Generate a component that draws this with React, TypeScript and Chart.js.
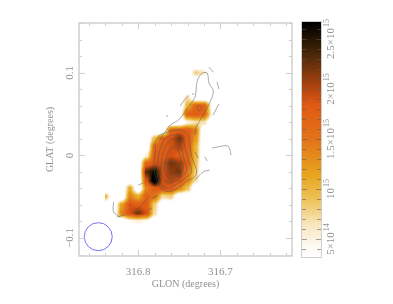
import React, { useEffect, useRef } from "react";
import { Chart, registerables } from "chart.js";

Chart.register(...registerables);

type P = [number, number];

const glonCells = [316.84, 316.83, 316.82, 316.81, 316.8, 316.79, 316.78, 316.77, 316.76, 316.75, 316.74, 316.73, 316.72, 316.71];
const glatCells = [0.11, 0.1, 0.09, 0.08, 0.07, 0.06, 0.05, 0.04, 0.03, 0.02, 0.01, 0, -0.01, -0.02, -0.03, -0.04, -0.05, -0.06, -0.07, -0.08, -0.09];
// column density in units of 10^14
const columnDensity = [
  [0, 0, 0, 0, 0, 0, 0, 0, 0, 0, 0, 0, 0, 0],
  [0, 0, 0, 0, 0, 0, 0, 0, 0, 0, 0, 8, 6, 0],
  [0, 0, 0, 0, 0, 0, 0, 0, 0, 0, 0, 0, 0, 0],
  [0, 0, 0, 0, 0, 0, 0, 0, 0, 0, 0, 0, 0, 0],
  [0, 0, 0, 0, 0, 0, 0, 0, 0, 0, 7, 0, 0, 0],
  [0, 0, 0, 0, 0, 0, 0, 0, 0, 0, 10, 17, 17, 4],
  [0, 0, 0, 0, 0, 0, 0, 0, 0, 0, 17, 18, 17, 5],
  [0, 0, 0, 0, 0, 0, 0, 0, 0, 0, 5, 7, 7, 0],
  [0, 0, 0, 0, 0, 0, 0, 0, 17, 18, 18, 14, 0, 0],
  [0, 0, 0, 0, 0, 0, 10, 18, 19, 22, 18, 12, 0, 0],
  [0, 0, 0, 0, 0, 0, 17, 18, 19, 20, 18, 10, 0, 0],
  [0, 0, 0, 0, 0, 5, 18, 18, 19, 18, 17, 10, 0, 0],
  [0, 0, 0, 0, 0, 17, 19, 19, 22, 21, 18, 9, 0, 0],
  [0, 0, 0, 0, 0, 23, 26, 19, 21, 22, 15, 8, 0, 0],
  [0, 0, 0, 0, 0, 19, 29, 19, 20, 19, 14, 7, 0, 0],
  [0, 0, 0, 11, 0, 14, 18, 19, 18, 14, 9, 0, 0, 0],
  [10, 0, 0, 14, 11, 17, 15, 7, 8, 0, 0, 0, 0, 0],
  [0, 0, 12, 19, 18, 18, 8, 0, 0, 0, 0, 0, 0, 0],
  [0, 0, 14, 19, 22, 19, 7, 0, 0, 0, 0, 0, 0, 0],
  [0, 0, 0, 4, 5, 4, 0, 0, 0, 0, 0, 0, 0, 0],
  [0, 0, 0, 0, 0, 0, 0, 0, 0, 0, 0, 0, 0, 0],
];

const contourA: P[] = [[316.779, 0.0065], [316.779, 0.0166], [316.773, 0.0247], [316.763, 0.0287], [316.749, 0.0307], [316.739, 0.0247], [316.737, 0.0126], [316.735, -0.0016], [316.729, -0.0177], [316.731, -0.0258], [316.739, -0.0298], [316.749, -0.0379], [316.763, -0.0439], [316.771, -0.0398], [316.777, -0.0318], [316.781, -0.0137], [316.779, 0.0065]];
const contourB: P[] = [[316.775, 0.0025], [316.769, 0.0186], [316.759, 0.0247], [316.747, 0.0226], [316.743, 0.0086], [316.739, -0.0056], [316.735, -0.0197], [316.743, -0.0277], [316.755, -0.0358], [316.765, -0.0398], [316.773, -0.0338], [316.777, -0.0217], [316.775, 0.0025]];
const contourC: P[] = [[316.771, -0.0016], [316.765, 0.0146], [316.755, 0.0207], [316.749, 0.0146], [316.745, -0.0016], [316.741, -0.0177], [316.747, -0.0258], [316.759, -0.033], [316.767, -0.0318], [316.772, -0.0217], [316.771, -0.0016]];
const contourD: P[] = [[316.767, -0.0056], [316.761, 0.0086], [316.753, 0.0105], [316.749, -0.0016], [316.745, -0.0177], [316.753, -0.0258], [316.763, -0.0277], [316.768, -0.0177], [316.767, -0.0056]];
const contourE: P[] = [[316.765, -0.0096], [316.759, -0.0056], [316.751, -0.0116], [316.749, -0.0197], [316.757, -0.0237], [316.763, -0.0197], [316.765, -0.0096]];
const contourNorth: P[] = [[316.774, 0.0186], [316.761, 0.0368], [316.751, 0.0428], [316.74, 0.0574], [316.731, 0.0707], [316.728, 0.0912], [316.722, 0.0997], [316.716, 0.0997], [316.714, 0.0876], [316.709, 0.0791], [316.71, 0.0707], [316.721, 0.0489], [316.73, 0.0332], [316.731, 0.0247]];
const contourDiamond: P[] = [[316.726, 0.061], [316.723, 0.0574], [316.726, 0.0537], [316.728, 0.0574], [316.726, 0.061]];
const contourBits: P[][] = [
  [[316.749, 0.0598], [316.744, 0.067], [316.739, 0.0719]],
  [[316.766, 0.0465], [316.764, 0.0489]],
  [[316.734, 0.0731], [316.733, 0.0755]],
  [[316.714, 0.107], [316.709, 0.1009]],
  [[316.704, 0.0888], [316.702, 0.0803]],
  [[316.709, 0.0489], [316.702, 0.0622]],
  [[316.83, -0.0564], [316.83, -0.0685], [316.822, -0.0745]],
  [[316.826, -0.0745], [316.816, -0.0721]],
  [[316.804, -0.0681], [316.796, -0.06], [316.787, -0.05]],
  [[316.8, -0.036], [316.794, -0.0334]],
  [[316.783, -0.0519], [316.775, -0.0479]],
  [[316.788, -0.0661], [316.783, -0.0636]],
  [[316.731, -0.0298], [316.721, -0.02], [316.713, -0.0177]],
  [[316.71, 0.0089], [316.691, 0.0114], [316.687, 0.0005]],
  [[316.731, 0.0041], [316.727, -0.0031]],
  [[316.719, -0.0019], [316.716, -0.0068]],
];
const beamCentre: P[] = [[316.8486, -0.0984]];

const xMajor = [316.8, 316.7];
const xMinor = [316.86, 316.84, 316.82, 316.78, 316.76, 316.74, 316.72, 316.68, 316.66, 316.64, 316.62];
const yMajor = [-0.1, 0, 0.1];
const yMinor = [-0.12, -0.08, -0.06, -0.04, -0.02, 0.02, 0.04, 0.06, 0.08, 0.12, 0.14, 0.16];
const barMajor: [number, string, string][] = [
  [5, "5×10", "14"],
  [10, "10", "15"],
  [15, "1.5×10", "15"],
  [20, "2×10", "15"],
  [25, "2.5×10", "15"],
];
const barMinor = [4, 6, 7, 8, 9, 11, 12, 13, 14, 16, 17, 18, 19, 21, 22, 23, 24, 26];
const colorStops: [number, number, number, number][] = [
  [3.2, 255, 255, 255],
  [4.4, 253, 248, 240],
  [6.4, 248, 230, 190],
  [8.9, 238, 195, 90],
  [11.4, 232, 165, 30],
  [15, 225, 115, 25],
  [18.4, 225, 90, 20],
  [20, 180, 70, 15],
  [22.9, 90, 45, 10],
  [24.4, 50, 28, 5],
  [26.6, 0, 0, 0],
];

const colorFor = (v: number): [number, number, number] => {
  if (v <= colorStops[0][0]) return [255, 255, 255];
  for (let i = 1; i < colorStops.length; i++) {
    const a = colorStops[i - 1];
    const b = colorStops[i];
    if (v <= b[0]) {
      const t = (v - a[0]) / (b[0] - a[0]);
      return [a[1] + t * (b[1] - a[1]), a[2] + t * (b[2] - a[2]), a[3] + t * (b[3] - a[3])];
    }
  }
  return [0, 0, 0];
};

const AXIS = "#cfcfcf";
const TEXT = "#909090";
const SERIF = "'Liberation Serif'";
const squeeze = (t: number) => Math.min(1, Math.max(0, (t - 0.1) / 0.8));

const heatmap = {
  id: "heatmap",
  beforeDatasetsDraw(chart: any) {
    const { ctx, scales } = chart;
    const n = glatCells.length;
    const m = glonCells.length;
    const x0 = Math.floor(scales.x.getPixelForValue(glonCells[0]));
    const x1 = Math.ceil(scales.x.getPixelForValue(glonCells[m - 1]));
    const y0 = Math.floor(scales.y.getPixelForValue(glatCells[0]));
    const y1 = Math.ceil(scales.y.getPixelForValue(glatCells[n - 1]));
    const dLon = glonCells[0] - glonCells[1];
    const dLat = glatCells[0] - glatCells[1];
    for (let py = y0; py < y1; py++) {
      const fy = (glatCells[0] - scales.y.getValueForPixel(py + 0.5)) / dLat;
      const j = Math.floor(fy);
      if (j < 0 || j >= n - 1) continue;
      for (let px = x0; px < x1; px++) {
        const fx = (glonCells[0] - scales.x.getValueForPixel(px + 0.5)) / dLon;
        const i = Math.floor(fx);
        if (i < 0 || i >= m - 1) continue;
        const tx = squeeze(fx - i);
        const ty = squeeze(fy - j);
        const v =
          columnDensity[j][i] * (1 - tx) * (1 - ty) +
          columnDensity[j][i + 1] * tx * (1 - ty) +
          columnDensity[j + 1][i] * (1 - tx) * ty +
          columnDensity[j + 1][i + 1] * tx * ty;
        if (v <= colorStops[0][0]) continue;
        const [r, g, b] = colorFor(v);
        ctx.fillStyle = `rgb(${r},${g},${b})`;
        ctx.fillRect(px, py, 1, 1);
      }
    }
  },
  afterDatasetsDraw(chart: any) {
    const { ctx, scales, chartArea: a } = chart;
    ctx.save();
    // frame
    ctx.strokeStyle = AXIS;
    ctx.lineWidth = 1.5;
    ctx.strokeRect(a.left, a.top, a.right - a.left, a.bottom - a.top);
    ctx.lineWidth = 1;
    const line = (x1: number, y1: number, x2: number, y2: number) => {
      ctx.beginPath();
      ctx.moveTo(x1, y1);
      ctx.lineTo(x2, y2);
      ctx.stroke();
    };
    const xt = (vals: number[], len: number) =>
      vals.forEach((v) => {
        const p = Math.round(scales.x.getPixelForValue(v)) + 0.5;
        line(p, a.top, p, a.top + len);
        line(p, a.bottom, p, a.bottom - len);
      });
    const yt = (vals: number[], len: number) =>
      vals.forEach((v) => {
        const p = Math.round(scales.y.getPixelForValue(v)) + 0.5;
        line(a.left, p, a.left + len, p);
        line(a.right, p, a.right - len, p);
      });
    xt(xMajor, 6);
    xt(xMinor, 3);
    yt(yMajor, 6);
    yt(yMinor, 3);

    // colour bar
    const c = scales.c;
    const bx0 = 302;
    const bx1 = 321;
    for (let y = Math.floor(a.top) - 1; y < a.bottom + 1; y++) {
      const [r, g, b] = colorFor(c.getValueForPixel(y + 0.5));
      ctx.fillStyle = `rgb(${r},${g},${b})`;
      ctx.fillRect(bx0, y, bx1 - bx0, 1);
    }
    ctx.strokeStyle = AXIS;
    ctx.strokeRect(bx0 - 0.5, a.top - 1.5, bx1 - bx0 + 1, a.bottom - a.top + 3);
    ctx.strokeStyle = "rgba(90,90,90,0.55)";
    const bt = (vals: number[], len: number) =>
      vals.forEach((v) => {
        const p = Math.round(c.getPixelForValue(v)) + 0.5;
        line(bx0, p, bx0 + len, p);
        line(bx1, p, bx1 - len, p);
      });
    bt(barMinor, 4);
    bt(barMajor.map((t) => t[0]), 5);

    ctx.fillStyle = TEXT;
    ctx.textBaseline = "alphabetic";
    barMajor.forEach(([v, main, sup]) => {
      ctx.save();
      ctx.translate(334, c.getPixelForValue(v));
      ctx.rotate(-Math.PI / 2);
      ctx.font = `11px ${SERIF}`;
      const wm = ctx.measureText(main).width;
      ctx.font = `8px ${SERIF}`;
      const ws = ctx.measureText(sup).width;
      const start = -(wm + ws + 1) / 2;
      ctx.textAlign = "left";
      ctx.font = `11px ${SERIF}`;
      ctx.fillText(main, start, 0);
      ctx.font = `8px ${SERIF}`;
      ctx.fillText(sup, start + wm + 1, -5);
      ctx.restore();
    });
    ctx.restore();
  },
};

export default function App() {
  const ref = useRef<HTMLCanvasElement>(null);
  useEffect(() => {
    const line = (pts: P[]) => ({
      data: pts.map(([x, y]) => ({ x, y })),
      showLine: true,
      tension: 0.3,
      borderColor: "#555555",
      borderWidth: 0.5,
      pointRadius: 0,
      fill: false,
    });
    const chart = new Chart(ref.current!, {
      type: "scatter",
      data: {
        datasets: [
          ...[contourA, contourB, contourC, contourD, contourE, contourNorth, contourDiamond, ...contourBits].map(line),
          {
            data: beamCentre.map(([x, y]) => ({ x, y })),
            pointRadius: 14,
            pointBorderColor: "#7272f0",
            pointBorderWidth: 1,
            pointBackgroundColor: "rgba(0,0,0,0)",
          },
        ],
      } as any,
      plugins: [heatmap],
      options: {
        animation: false,
        responsive: false,
        layout: { padding: { top: 23, left: 0, right: 0, bottom: 0 } },
        plugins: { legend: { display: false }, tooltip: { enabled: false } },
        scales: {
          x: {
            type: "linear",
            position: "bottom",
            reverse: true,
            min: 316.613,
            max: 316.872,
            grid: { display: false },
            border: { display: false },
            afterBuildTicks: (s: any) => {
              s.ticks = xMajor.map((value) => ({ value }));
            },
            afterFit: (s: any) => {
              s.height = 48;
            },
            ticks: {
              color: TEXT,
              font: { family: SERIF, size: 11 },
              padding: 2,
              maxRotation: 0,
              callback: (v: any) => Number(v).toFixed(1),
            },
            title: {
              display: true,
              text: "GLON (degrees)",
              color: TEXT,
              font: { family: SERIF, size: 10 },
              padding: { top: 0, bottom: 14 },
            },
          },
          y: {
            type: "linear",
            position: "left",
            min: -0.1218,
            max: 0.1603,
            grid: { display: false },
            border: { display: false },
            afterBuildTicks: (s: any) => {
              s.ticks = yMajor.map((value) => ({ value }));
            },
            afterFit: (s: any) => {
              s.width = 79;
            },
            ticks: {
              color: TEXT,
              font: { family: SERIF, size: 11 },
              padding: -9,
              minRotation: 90,
              maxRotation: 90,
              crossAlign: "center",
              callback: (v: any) => (v < 0 ? "−" + Math.abs(v).toFixed(1) : v === 0 ? "0" : Number(v).toFixed(1)),
            },
            title: {
              display: true,
              text: "GLAT (degrees)",
              color: TEXT,
              font: { family: SERIF, size: 10 },
              padding: { top: 44, bottom: 0 },
            },
          },
          c: {
            type: "linear",
            axis: "y",
            position: "right",
            min: 3.3,
            max: 26.6,
            grid: { display: false },
            border: { display: false },
            ticks: { display: false },
            afterFit: (s: any) => {
              s.width = 101;
            },
          },
        },
      } as any,
    });
    return () => chart.destroy();
  }, []);
  return (
    <div style={{ position: "fixed", left: 0, top: 0, width: 393, height: 304, background: "#fff" }}>
      <canvas ref={ref} width={393} height={304} style={{ display: "block", width: 393, height: 304 }} />
    </div>
  );
}
